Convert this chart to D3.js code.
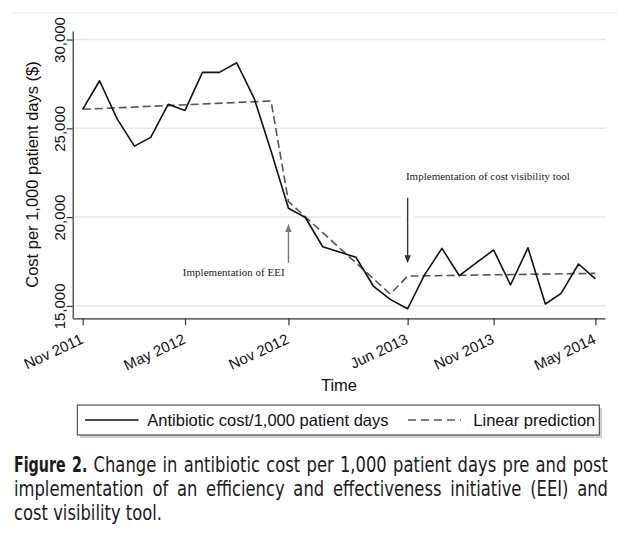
<!DOCTYPE html>
<html>
<head>
<meta charset="utf-8">
<script src="https://d3js.org/d3.v7.min.js"></script>
<style>
  body { margin:0; background:#fff; }
  svg text { font-family: "Liberation Sans", Arial, Helvetica, sans-serif; fill:#111; }
  .grid line { stroke:#e8e8e8; stroke-width:1.5; }
  .axis path, .axis line { stroke:#333; stroke-width:1.2; }
  .axis text { font-size:15px; fill:#111; }
  .note { font-family: "Liberation Serif", "Times New Roman", serif; font-size:11px; fill:#222; }
  .caption { font-family: "Liberation Sans Narrow", "Arial Narrow", "DejaVu Sans Condensed", "Liberation Sans", Arial, sans-serif; font-size:22px; fill:#1b1b1b; }
</style>
</head>
<body>
<svg id="chart" width="618" height="541"></svg>
<script>
// monthly antibiotic cost per 1,000 patient days
var months = ["2011-11","2011-12","2012-01","2012-02","2012-03","2012-04","2012-05","2012-06",
              "2012-07","2012-08","2012-09","2012-10","2012-11","2012-12","2013-01","2013-02",
              "2013-03","2013-04","2013-05","2013-06","2013-07","2013-08","2013-09","2013-10",
              "2013-11","2013-12","2014-01","2014-02","2014-03","2014-04","2014-05"];
var cost = [26070,27680,25550,24000,24490,26350,26010,28150,
            28150,28690,26690,23720,20500,19980,18330,18020,
            17740,16120,15370,14840,16750,18240,16700,17420,
            18150,16180,18270,15110,15710,17360,16520];

// segmented linear prediction (break points)
var predMonths = ["2011-11","2012-10","2012-11","2013-05","2013-06","2014-05"];
var predCost = [26070,26540,20880,15670,16680,16835];

var tickMonths = ["2011-11","2012-05","2012-11","2013-06","2013-11","2014-05"];
var yTicks = [15000,20000,25000,30000];

var notes = ["Implementation of EEI","Implementation of cost visibility tool"];
var noteMonths = ["2012-11","2013-06"];
var arrowFrom = [17430,21090];
var arrowTo = [19610,17400];

var legendLabels = ["Antibiotic cost/1,000 patient days","Linear prediction"];

var captionBold = "Figure 2.";
var captionLines = ["Change in antibiotic cost per 1,000 patient days pre and post",
                    "implementation of an efficiency and effectiveness initiative (EEI) and",
                    "cost visibility tool."];

var parse = d3.timeParse("%Y-%m");
var svg = d3.select("#chart");

// faint outer border line
svg.append("line").attr("x1",13).attr("x2",618).attr("y1",13).attr("y2",13)
   .attr("stroke","#ececec").attr("stroke-width",1);

var x0 = d3.scaleTime().domain([parse(months[0]), parse(months[months.length-1])]).range([82.7,595.4]);
var x = x0.copy().domain([x0.invert(72.7), x0.invert(605)]).range([72.7,605]);
var y = d3.scaleLinear().domain([14320,30480]).range([318,31]);

// grid
svg.append("g").attr("class","grid")
  .selectAll("line").data(yTicks).enter().append("line")
  .attr("x1",72.7).attr("x2",606)
  .attr("y1",function(d){return y(d);}).attr("y2",function(d){return y(d);});

// annotations (arrows + text)
notes.forEach(function(n,i){
  var ax = x(parse(noteMonths[i]));
  var y1 = y(arrowFrom[i]), y2 = y(arrowTo[i]);
  var col = i==0 ? "#777" : "#333";
  svg.append("line").attr("x1",ax).attr("x2",ax).attr("y1",y1).attr("y2",y2)
     .attr("stroke","#fff").attr("stroke-width",13);
  var dir = y2 < y1 ? 1 : -1;
  svg.append("line").attr("x1",ax).attr("x2",ax).attr("y1",y1).attr("y2",y2+dir*7)
     .attr("stroke",col).attr("stroke-width",1.4);
  svg.append("path")
     .attr("d","M"+ax+","+y2+"L"+(ax-3.2)+","+(y2+dir*8)+"L"+(ax+3.2)+","+(y2+dir*8)+"Z")
     .attr("fill",col);
});
svg.append("text").attr("class","note")
   .attr("x",x(parse(noteMonths[0]))-105.7).attr("y",276)
   .attr("textLength",102).attr("lengthAdjust","spacing").text(notes[0]);
svg.append("text").attr("class","note")
   .attr("x",x(parse(noteMonths[1]))-1.7).attr("y",180)
   .attr("textLength",164).attr("lengthAdjust","spacing").text(notes[1]);

// axes
var yAxis = svg.append("g").attr("class","axis")
  .attr("transform","translate(72.7,0)")
  .call(d3.axisLeft(y).tickValues(yTicks).tickSize(6).tickSizeOuter(0).tickFormat(d3.format(",")));
yAxis.selectAll("text")
  .attr("transform","rotate(-90)").attr("x",0).attr("y",-8).attr("dy",0)
  .style("text-anchor","middle");

var xAxis = svg.append("g").attr("class","axis")
  .attr("transform","translate(0,318.3)")
  .call(d3.axisBottom(x).tickValues(tickMonths.map(parse)).tickSize(7).tickSizeOuter(0)
        .tickFormat(d3.timeFormat("%b %Y")));
xAxis.selectAll("text")
  .attr("x",0).attr("y",0).attr("dy",0)
  .attr("transform","translate(1,24.5) rotate(-25)")
  .style("text-anchor","end");

// axis titles
svg.append("text").attr("transform","translate(37.5,174.5) rotate(-90)")
   .attr("text-anchor","middle").style("font-size","16.5px")
   .text("Cost per 1,000 patient days ($)");
svg.append("text").attr("x",339).attr("y",391)
   .attr("text-anchor","middle").style("font-size","16.5px").text("Time");

// lines
var line = d3.line().x(function(d){return x(parse(d[0]));}).y(function(d){return y(d[1]);});
svg.append("path").datum(d3.zip(predMonths,predCost))
   .attr("d",line).attr("fill","none").attr("stroke","#555")
   .attr("stroke-width",1.6).attr("stroke-dasharray","8,4");
svg.append("path").datum(d3.zip(months,cost))
   .attr("d",line).attr("fill","none").attr("stroke","#111")
   .attr("stroke-width",1.6).attr("stroke-linejoin","round");

// legend
var lg = svg.append("g");
lg.append("rect").attr("x",80).attr("y",408).attr("width",522).attr("height",30).attr("fill","#cfcfcf");
lg.append("rect").attr("x",77.3).attr("y",405).attr("width",522).attr("height",30)
  .attr("fill","#fff").attr("stroke","#333").attr("stroke-width",1);
lg.append("line").attr("x1",85).attr("x2",138.5).attr("y1",420).attr("y2",420)
  .attr("stroke","#111").attr("stroke-width",1.3);
lg.append("text").attr("x",147.3).attr("y",425.8).style("font-size","16.5px").text(legendLabels[0]);
lg.append("line").attr("x1",408).attr("x2",461).attr("y1",420).attr("y2",420)
  .attr("stroke","#555").attr("stroke-width",1.3).attr("stroke-dasharray","8,5");
lg.append("text").attr("x",473.3).attr("y",425.8).style("font-size","16.5px").text(legendLabels[1]);

// caption, justified word by word
var cap = svg.append("g");
var probe = cap.append("text").attr("class","caption").text(captionLines[2]);
var sx = 148 / probe.node().getComputedTextLength();
probe.text(captionBold).style("font-weight","bold");
var sxb = 72 / probe.node().getComputedTextLength();
probe.remove();
var left = 14, right = 608, baselines = [472,496,520];
captionLines.forEach(function(ln,i){
  var words = ln.split(" ").map(function(w){return {t:w,b:false};});
  if (i==0) words = captionBold.split(" ").map(function(w){return {t:w,b:true};}).concat(words);
  var nodes = words.map(function(w){
    var t = cap.append("text").attr("class","caption").text(w.t);
    if (w.b) t.style("font-weight","bold");
    return t;
  });
  var scales = words.map(function(w){return w.b ? sxb : sx;});
  var widths = nodes.map(function(t,k){return t.node().getComputedTextLength()*scales[k];});
  var space = 5.2;
  if (i < 2) space = (right-left-d3.sum(widths))/(words.length-1);
  var cx = left;
  nodes.forEach(function(t,k){
    t.attr("transform","translate("+cx+","+baselines[i]+") scale("+scales[k]+",1)");
    cx += widths[k]+space;
  });
});
</script>
</body>
</html>
